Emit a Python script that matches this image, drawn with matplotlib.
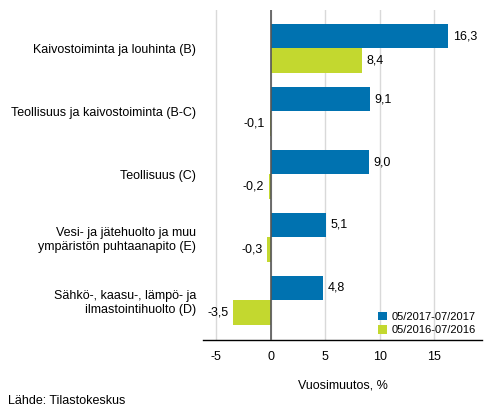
import matplotlib.pyplot as plt
import numpy as np

categories = [
    "Kaivostoiminta ja louhinta (B)",
    "Teollisuus ja kaivostoiminta (B-C)",
    "Teollisuus (C)",
    "Vesi- ja jätehuolto ja muu\nympäristön puhtaanapito (E)",
    "Sähkö-, kaasu-, lämpö- ja\nilmastointihuolto (D)",
]
series_names = ["05/2017-07/2017", "05/2016-07/2016"]
values_2017 = [16.3, 9.1, 9.0, 5.1, 4.8]
values_2016 = [8.4, -0.1, -0.2, -0.3, -3.5]
xticks = [-5, 0, 5, 10, 15]

plt.rcParams['font.family'] = ['Liberation Sans', 'DejaVu Sans']

fig = plt.figure(figsize=(4.93, 4.16), dpi=100)
ax = fig.add_axes([0.412, 0.183, 0.566, 0.793])

y = np.arange(len(categories))
h = 0.39
colors = ['#0072b0', '#c3d82f']
b1 = ax.barh(y - h / 2, values_2017, height=h, color=colors[0], label=series_names[0], zorder=2)
b2 = ax.barh(y + h / 2, values_2016, height=h, color=colors[1], label=series_names[1], zorder=2)

def fmt(v):
    return f"{v:.1f}".replace(".", ",")

for bars, vals in ((b1, values_2017), (b2, values_2016)):
    for bar, v in zip(bars, vals):
        yc = bar.get_y() + bar.get_height() / 2
        if v >= 0:
            ax.text(v + 0.4, yc, fmt(v), va='center', ha='left', fontsize=9)
        else:
            ax.text(v - 0.4, yc, fmt(v), va='center', ha='right', fontsize=9)

ax.set_ylim(4.63, -0.61)
ax.set_xlim(-6.2, 19.4)
ax.set_yticks(y)
ax.set_yticklabels(categories, fontsize=9, multialignment='right')
ax.tick_params(axis='y', length=0, pad=5)
ax.set_xticks(xticks)
ax.set_xticklabels([str(t) for t in xticks], fontsize=9)
ax.tick_params(axis='x', length=0, pad=8)

ax.grid(axis='x', color='#d9d9d9', linewidth=1, zorder=0)
ax.axvline(0, color='#555555', linewidth=1.2, zorder=3)
for s in ['top', 'right', 'left']:
    ax.spines[s].set_visible(False)
ax.spines['bottom'].set_color('black')
ax.spines['bottom'].set_linewidth(1)

ax.set_xlabel("Vuosimuutos, %", fontsize=9, labelpad=12)

ax.legend(loc='lower right', frameon=False, fontsize=8, handlelength=0.75,
          handleheight=0.75, handletextpad=0.5, labelspacing=0.35,
          borderaxespad=0.0, bbox_to_anchor=(0.995, 0.0))

fig.text(0.016, 0.036, "Lähde: Tilastokeskus", fontsize=9, ha='left', va='center')

fig.savefig("out.png", dpi=100, facecolor='white')
